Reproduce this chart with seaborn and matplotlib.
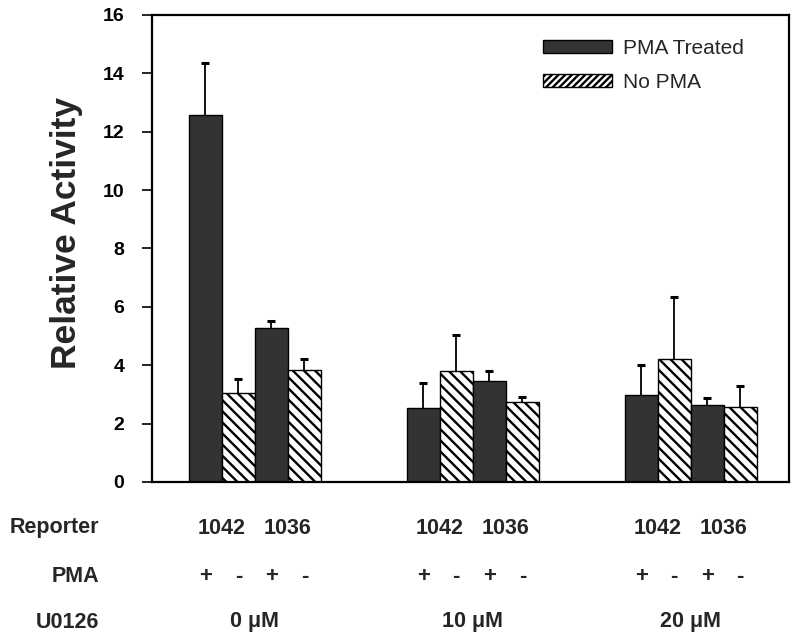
import numpy as np
import pandas as pd
import matplotlib
matplotlib.use("Agg")
import matplotlib.pyplot as plt
import matplotlib.transforms as mtransforms
from matplotlib.patches import Patch
import seaborn as sns

# ---- data ----
groups = ["0 μM", "10 μM", "20 μM"]
slots = ["1042 +", "1042 -", "1036 +", "1036 -"]
reporters = ["1042", "1036"]
pma_signs = ["+", "-", "+", "-"]
legend_labels = ["PMA Treated", "No PMA"]

mean_1042_pma = [12.58, 2.53, 2.99]
mean_1042_nopma = [3.03, 3.79, 4.21]
mean_1036_pma = [5.26, 3.47, 2.64]
mean_1036_nopma = [3.83, 2.73, 2.56]

err_1042_pma = [1.77, 0.86, 1.03]
err_1042_nopma = [0.48, 1.26, 2.13]
err_1036_pma = [0.24, 0.32, 0.25]
err_1036_nopma = [0.38, 0.19, 0.72]

means = [mean_1042_pma, mean_1042_nopma, mean_1036_pma, mean_1036_nopma]
errs = [err_1042_pma, err_1042_nopma, err_1036_pma, err_1036_nopma]

rows = []
for k, slot in enumerate(slots):
    for g, grp in enumerate(groups):
        rows.append({"group": grp, "slot": slot, "value": means[k][g], "err": errs[k][g]})
df = pd.DataFrame(rows)

# ---- style ----
sns.set_style("ticks")
plt.rcParams["font.family"] = ["Liberation Sans", "DejaVu Sans"]
plt.rcParams["hatch.linewidth"] = 1.7
plt.rcParams["hatch.color"] = "black"

dark = "#333333"
lab_font = ["Liberation Sans", "DejaVu Sans"]

fig = plt.figure(figsize=(8, 6.4), dpi=100)
ax = fig.add_axes([0.19, 0.247, 0.796, 0.7297])

sns.barplot(data=df, x="group", y="value", hue="slot", order=groups, hue_order=slots,
            palette=[dark] * 4, width=0.606, gap=0, edgecolor="black", linewidth=1.0,
            saturation=1, errorbar=None, legend=False, ax=ax)

bar_conts = list(ax.containers)

for k, cont in enumerate(bar_conts):
    for g, bar in enumerate(cont.patches):
        if k % 2 == 1:
            bar.set_facecolor("white")
            bar.set_hatch("\\\\\\")
        cx = bar.get_x() + bar.get_width() / 2
        top = bar.get_height()
        sub = df[(df["slot"] == slots[k]) & (df["group"] == groups[g])]
        e = float(sub["err"].iloc[0])
        _, caps, _ = ax.errorbar([cx], [top], yerr=[[0], [e]], fmt="none", ecolor="black",
                                 elinewidth=1.3, capsize=2.6, capthick=2.2, zorder=5)
        caps[0].set_visible(False)

ax.set_xlim(-0.472, 2.450)
ax.set_ylim(0, 16)
ax.set_yticks(np.arange(0, 17, 2))
ax.set_xticks([])
ax.set_xlabel("")
for lab in ax.get_yticklabels():
    lab.set_fontweight("heavy")
    lab.set_fontsize(14)
ax.tick_params(axis="y", direction="out", length=7, width=1.2, pad=13, colors="black")
for sp in ax.spines.values():
    sp.set_visible(True)
    sp.set_linewidth(1.6)
    sp.set_color("black")

ax.set_ylabel("Relative Activity", fontsize=25.5, fontweight="bold")
ax.yaxis.set_label_coords(-0.108, 0.533)

# ---- annotation rows below the axis ----
trans = mtransforms.blended_transform_factory(ax.transData, fig.transFigure)
row_y = {"Reporter": 1 - 528 / 640, "PMA": 1 - 577 / 640, "U0126": 1 - 622 / 640}
fs_rows = 15.5
for name, yy in row_y.items():
    fig.text(99 / 800, yy, name, ha="right", va="center", fontsize=fs_rows,
             fontweight="bold", family=lab_font)

for g, grp in enumerate(groups):
    pts = [bar_conts[k].patches[g] for k in range(4)]
    centers = [p.get_x() + p.get_width() / 2 for p in pts]
    for k in range(4):
        ax.text(centers[k], row_y["PMA"], pma_signs[k], transform=trans, ha="center",
                va="center", fontsize=16, fontweight="bold", family=lab_font)
    for r, rep in enumerate(reporters):
        xr = (centers[2 * r] + centers[2 * r + 1]) / 2
        ax.text(xr, row_y["Reporter"], rep, transform=trans, ha="center", va="center",
                fontsize=15.5, fontweight="bold", family=lab_font)
    ax.text(np.mean(centers), row_y["U0126"], grp, transform=trans, ha="center",
            va="center", fontsize=fs_rows, fontweight="bold", family=lab_font)

# ---- legend ----
handles = [Patch(facecolor=dark, edgecolor="black", linewidth=1.0),
           Patch(facecolor="white", edgecolor="black", linewidth=1.0, hatch="/////")]
fig.legend(handles, legend_labels, loc="upper left", bbox_to_anchor=(543 / 800, 1 - 39 / 640),
           frameon=False, handlelength=3.3, handleheight=0.6, handletextpad=0.55,
           labelspacing=0.72, borderpad=0, borderaxespad=0,
           prop={"family": lab_font, "size": 15})

fig.savefig("out.png", dpi=100)
